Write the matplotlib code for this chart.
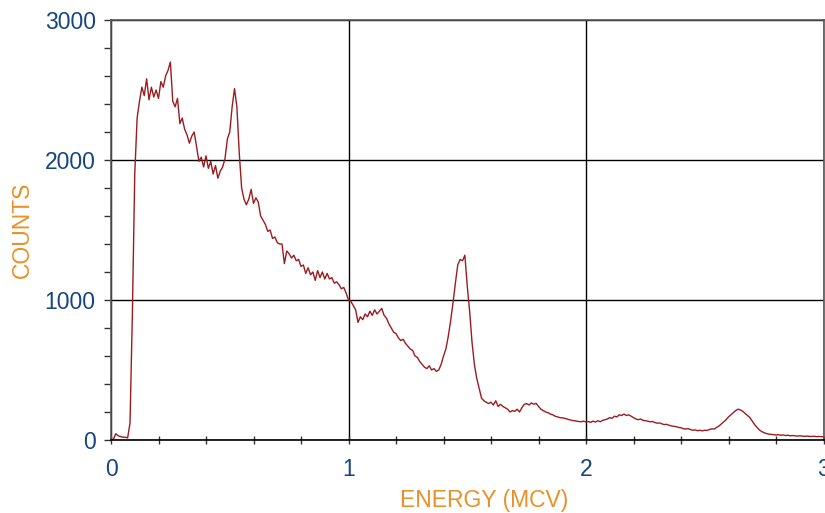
import numpy as np
import matplotlib
matplotlib.use("Agg")
import matplotlib.pyplot as plt
from matplotlib.ticker import MultipleLocator

# Spectrum: counts per 0.01 MeV channel, 0.00 .. 3.00
energy_step = 0.01
counts = [
    0, 5, 45, 30, 25, 20, 20, 15, 120, 900,
    1900, 2300, 2420, 2520, 2460, 2580, 2430, 2520, 2450, 2500,
    2440, 2560, 2520, 2600, 2640, 2700, 2420, 2380, 2440, 2260,
    2300, 2220, 2180, 2120, 2170, 2200, 2100, 1990, 2020, 1950,
    2030, 1940, 1990, 1900, 1960, 1870, 1920, 1950, 2010, 2150,
    2200, 2380, 2510, 2380, 2050, 1800, 1720, 1680, 1720, 1790,
    1690, 1730, 1700, 1600, 1570, 1540, 1490, 1500, 1440, 1450,
    1410, 1400, 1400, 1260, 1350, 1330, 1300, 1320, 1280, 1290,
    1240, 1250, 1190, 1230, 1180, 1200, 1140, 1210, 1160, 1200,
    1150, 1190, 1150, 1160, 1120, 1130, 1110, 1080, 1090, 1050,
    1000, 990, 960, 930, 840, 880, 860, 900, 880, 920,
    890, 930, 900, 920, 940, 890, 870, 830, 800, 770,
    760, 730, 710, 720, 690, 670, 650, 640, 600, 590,
    560, 540, 520, 510, 530, 500, 510, 490, 500, 540,
    600, 650, 740, 850, 980, 1120, 1250, 1290, 1280, 1320,
    1100, 920, 700, 540, 440, 370, 300, 280, 270, 260,
    270, 250, 280, 240, 255, 240, 230, 220, 200, 210,
    205, 220, 200, 230, 255, 260, 250, 265, 255, 262,
    240, 220, 210, 200, 195, 185, 180, 170, 165, 160,
    158, 155, 150, 145, 140, 138, 135, 132, 130, 135,
    128, 132, 126, 135, 128, 138, 130, 140, 145, 150,
    160, 155, 170, 165, 180, 175, 185, 175, 180, 170,
    160, 150, 145, 150, 140, 138, 135, 130, 132, 125,
    120, 122, 115, 110, 112, 105, 100, 98, 95, 90,
    88, 80, 78, 82, 74, 70, 72, 66, 70, 65,
    70, 68, 75, 80, 78, 90, 100, 115, 130, 145,
    165, 180, 195, 210, 220, 215, 205, 190, 175, 160,
    135, 110, 90, 72, 60, 52, 46, 42, 40, 38,
    36, 38, 34, 36, 32, 34, 30, 32, 30, 28,
    30, 28, 26, 28, 26, 25, 27, 24, 25, 24,
    23,
]
x_ticks = [0, 1, 2, 3]
x_tick_labels = ["0", "1", "2", "3"]
y_ticks = [0, 1000, 2000, 3000]
y_tick_labels = ["0", "1000", "2000", "3000"]
x_label = "ENERGY (MCV)"
y_label = "COUNTS"

energy = np.arange(len(counts)) * energy_step

plt.rcParams['font.family'] = ['Liberation Sans', 'DejaVu Sans']

fig = plt.figure(figsize=(8.25, 5.13), dpi=100)
ax = fig.add_axes([111/825, 1 - 440/513, 712.5/825, 420/513])

ax.plot(energy, counts, color="#9b1c20", lw=1.0)

ax.set_xlim(0, 3)
ax.set_ylim(0, 3000)

ax.set_xticks(x_ticks)
ax.set_xticklabels(x_tick_labels)
ax.set_yticks(y_ticks)
ax.set_yticklabels(y_tick_labels)
ax.xaxis.set_minor_locator(MultipleLocator(0.2))
ax.yaxis.set_minor_locator(MultipleLocator(200))

blue = "#16467f"
orange = "#e8912a"
ax.tick_params(axis="x", which="both", direction="inout", length=6, width=1,
               color="#333333", labelsize=16.5, labelcolor=blue, pad=10)
ax.tick_params(axis="y", which="both", direction="out", length=5, width=1,
               color="#333333", labelsize=16.5, labelcolor=blue, pad=6)

ax.grid(True, which="major", color="black", lw=1.0)
ax.set_axisbelow(True)

for side in ["left", "top", "right"]:
    ax.spines[side].set_color("#555555")
    ax.spines[side].set_linewidth(1.2)
ax.spines["bottom"].set_color("black")
ax.spines["bottom"].set_linewidth(1.2)

ax.set_xlabel(x_label, color=orange, fontsize=16.5)
ax.set_ylabel(y_label, color=orange, fontsize=16.5)
ax.xaxis.set_label_coords((484 - 111) / 712.5, -(500 - 440) / 420, transform=ax.transAxes)
ax.yaxis.set_label_coords(-(111 - 22) / 712.5, 0.5, transform=ax.transAxes)
ax.xaxis.label.set_va("center")
ax.yaxis.label.set_va("center")

fig.savefig("out.png", dpi=100)
